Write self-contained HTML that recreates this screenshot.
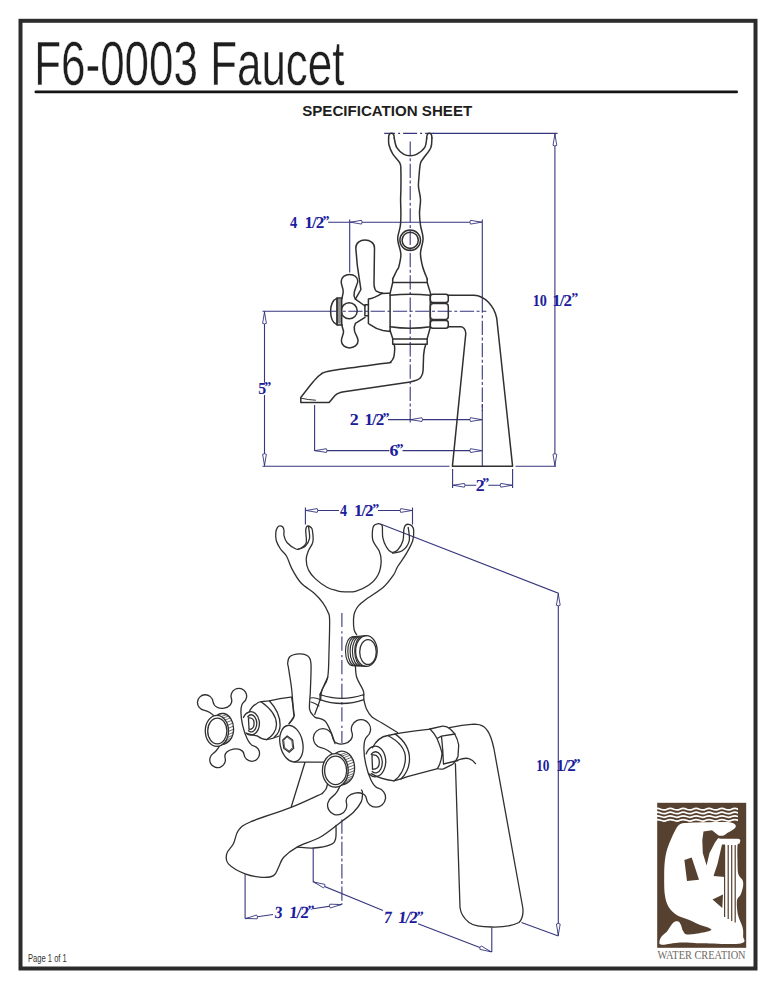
<!DOCTYPE html>
<html><head><meta charset="utf-8"><style>
html,body{margin:0;padding:0;background:#fff;width:776px;height:990px;overflow:hidden}
svg{position:absolute;left:0;top:0}
</style></head><body>
<svg width="776" height="990" viewBox="0 0 776 990">

<rect x="20.5" y="20.8" width="735" height="947.7" fill="none" stroke="#2c2c2c" stroke-width="4"/>
<text x="34.3" y="84.9" font-family="Liberation Sans" font-size="63.8" fill="#1e1e1e" stroke="#fff" stroke-width="0.5" transform="translate(34.2 0) scale(0.689 1) translate(-34.2 0)">F6-0003 Faucet</text>
<rect x="34.5" y="90.6" width="703.5" height="2.7" rx="1.3" fill="#151515"/>
<text x="302.2" y="115.5" font-family="Liberation Sans" font-weight="bold" font-size="15.3" fill="#1e1e1e" textLength="170" lengthAdjust="spacingAndGlyphs">SPECIFICATION SHEET</text>
<text x="28" y="962.5" font-family="Liberation Sans" font-size="11.5" fill="#333" transform="translate(28 0) scale(0.66 1) translate(-28 0)">Page 1 of 1</text>
<g fill="none" stroke="#36367e" stroke-width="1.1">
<path d="M384.2 133.4H434" stroke-dasharray="14 3 2 3" stroke-dashoffset="3.1"/>
<path d="M433 133.4H557.5"/>
<path d="M554.9 133.4V466.3"/>
<path d="M328 222.2H482.3M349.7 219.5V272.4M482.3 219.5V298.4"/>
<path d="M482.3 298.4V411" stroke-dasharray="14.3 2.5 3 2.5"/>
<path d="M482.3 404V466.3"/>
<path d="M410.2 139.5V422.5" stroke-dasharray="14.3 2.5 3 2.5" stroke-dashoffset="20.4"/>
<path d="M262.5 311.3H332"/>
<path d="M332 311.3H486.4" stroke-dasharray="14.3 2.5 3 2.5" stroke-dashoffset="6"/>
<path d="M264.5 311.3V382.7M264.5 394.9V466.3"/>
<path d="M388 419.6H482.3"/>
<path d="M314.6 405V451M314.6 450.6H389.3M402.5 450.6H482.3"/>
<path d="M262.5 466.3H449.5M515.5 466.3H556"/>
<path d="M452.6 469V488M512.6 469V488M452.6 485.3H476.3M488.3 485.3H512.6"/>
</g>
<g fill="#fff" stroke="#36367e" stroke-width="0.9">
<path d="M554.9 134.3L556.8 145.3Q554.9 146.5 553.0 145.3Z"/>
<path d="M554.9 465.3L553.0 454.3Q554.9 453.1 556.8 454.3Z"/>
<path d="M350.5 222.2L361.5 220.3Q362.7 222.2 361.5 224.1Z"/>
<path d="M481.5 222.2L470.5 224.1Q469.3 222.2 470.5 220.3Z"/>
<path d="M264.5 312.3L266.4 323.3Q264.5 324.5 262.6 323.3Z"/>
<path d="M264.5 465.3L262.6 454.3Q264.5 453.1 266.4 454.3Z"/>
<path d="M410.9 419.6L421.9 417.7Q423.1 419.6 421.9 421.5Z"/>
<path d="M481.5 419.6L470.5 421.5Q469.3 419.6 470.5 417.7Z"/>
<path d="M315.4 450.6L326.4 448.7Q327.6 450.6 326.4 452.5Z"/>
<path d="M481.5 450.6L470.5 452.5Q469.3 450.6 470.5 448.7Z"/>
<path d="M453.4 485.3L464.4 483.4Q465.6 485.3 464.4 487.2Z"/>
<path d="M511.8 485.3L500.8 487.2Q499.6 485.3 500.8 483.4Z"/>
</g>
<g fill="none" stroke="#36367e" stroke-width="1.1">
<path d="M305.4 507.4V524.4M412.5 507.4V524.4M305.4 510.5H339M378 510.5H412.5"/>
<path d="M381.2 524.3L558.3 593.2V936"/>
<path d="M341.9 612.9V743" stroke-dasharray="14.2 4.2 2.3 2.9"/>
<path d="M341.9 819.5V904.4" stroke-dasharray="14.3 2.5 3 2.5"/>
<path d="M245.1 874.2V918.6M245.1 918.6L273 914.5M313 908.7L341.9 904.4"/>
<path d="M313.2 848V881.8L383 910.5M418 923.8L491.6 952M491.8 927.7V952"/>
<path d="M521.5 922.5L558.3 936"/>
</g>
<g fill="#fff" stroke="#36367e" stroke-width="0.9">
<path d="M306.2 510.5L317.2 508.6Q318.4 510.5 317.2 512.4Z"/>
<path d="M411.7 510.5L400.7 512.4Q399.5 510.5 400.7 508.6Z"/>
<path d="M558.3 594.2L560.2 605.2Q558.3 606.4 556.4 605.2Z"/>
<path d="M558.3 935.0L556.4 924.0Q558.3 922.8 560.2 924.0Z"/>
<path d="M246.0 918.5L256.6 915.0Q258.1 916.7 257.2 918.8Z"/>
<path d="M341.0 904.5L330.4 908.0Q328.9 906.3 329.8 904.2Z"/>
<path d="M314.0 882.1L324.9 884.4Q325.4 886.6 323.5 887.9Z"/>
<path d="M490.8 951.7L479.9 949.4Q479.4 947.2 481.3 945.9Z"/>
</g>
<g font-family="Liberation Serif" font-weight="bold" fill="#1d1d9c" stroke="#1d1d9c" stroke-width="0.05" font-size="17">
<text transform="translate(290.00 227.9) scale(0.850 1)" x="0" y="0">4</text>
<text transform="translate(304.50 227.9) scale(1.000 1)" x="0" y="0" letter-spacing="-1">1/2</text><text x="322.40" y="225.6" font-size="14">”</text>
<text transform="translate(532.67 305.6) scale(0.833 1)" x="0" y="0">10</text>
<text transform="translate(552.20 305.6) scale(1.000 1)" x="0" y="0" letter-spacing="-1">1/2</text><text x="571.20" y="303.3" font-size="14">”</text>
<text transform="translate(258.17 394.1) scale(0.929 1)" x="0" y="0">5</text>
<text x="264.20" y="391.8" font-size="14">”</text>
<text transform="translate(349.74 425.2) scale(1.057 1)" x="0" y="0">2</text>
<text transform="translate(364.50 425.2) scale(1.000 1)" x="0" y="0" letter-spacing="-1">1/2</text><text x="382.40" y="422.9" font-size="14">”</text>
<text transform="translate(389.46 456.0) scale(1.043 1)" x="0" y="0">6</text>
<text x="396.60" y="453.7" font-size="14">”</text>
<text transform="translate(475.66 490.6) scale(1.043 1)" x="0" y="0">2</text>
<text x="482.20" y="488.3" font-size="14">”</text>
<text transform="translate(339.90 516.3) scale(0.825 1)" x="0" y="0">4</text>
<text transform="translate(353.90 516.3) scale(1.000 1)" x="0" y="0" letter-spacing="-1">1/2</text><text x="372.30" y="514.0" font-size="14">”</text>
<text transform="translate(536.22 771.0) scale(0.780 1)" x="0" y="0">10</text>
<text transform="translate(556.10 771.0) scale(1.000 1)" x="0" y="0" letter-spacing="-1">1/2</text><text x="573.40" y="768.7" font-size="14">”</text>
<g transform="translate(275.2 917.6) skewX(-5)"><text transform="translate(-0.91 0) scale(0.914 1)" x="0" y="0">3</text><text transform="translate(13.50 0) scale(1.000 1)" x="0" y="0" letter-spacing="-1">1/2</text><text x="31.30" y="-2.3" font-size="14">”</text></g>
<g transform="translate(384.2 923.3) skewX(-7)"><text transform="translate(-0.93 0) scale(0.929 1)" x="0" y="0">7</text><text transform="translate(13.30 0) scale(1.000 1)" x="0" y="0" letter-spacing="-1">1/2</text><text x="31.30" y="-2.3" font-size="14">”</text></g>
</g>
<g fill="none" stroke="#303030" stroke-width="1.5" stroke-linejoin="round" stroke-linecap="round">
<path d="M390.1 331V293.4L392.7 282.5V278.9"/>
<path d="M392.7 278.9C393.3 277.6 395.5 273.1 396.5 271.0C397.5 268.9 398.2 269.3 398.9 266.5C399.6 263.7 401.0 258.1 400.9 254.2C400.8 250.3 398.8 245.9 398.3 243.0C397.8 240.1 397.5 239.9 397.8 237.0C398.1 234.1 399.9 229.3 400.4 225.3C400.9 221.3 400.9 217.2 400.9 213.0C400.9 208.8 400.6 203.8 400.6 200.0C400.6 196.2 400.8 194.8 400.9 190.0C400.9 185.2 401.1 175.9 400.9 171.4C400.7 166.9 401.3 166.0 399.9 163.1C398.5 160.2 394.5 156.9 392.7 153.9C390.9 150.9 389.7 147.7 389.0 145.0C388.3 142.3 388.7 139.2 388.6 138.0"/>
<path d="M388.6 138C388.6 134.6 389.8 133.2 391.4 133.2C393 133.2 394.2 134.6 394.2 138"/>
<path d="M394.2 138.0C394.6 139.6 395.2 145.0 396.8 147.7C398.4 150.4 401.8 153.1 404.0 154.4C406.2 155.7 408.1 155.7 410.2 155.7C412.3 155.7 414.1 155.7 416.5 154.4C418.9 153.1 422.9 150.4 424.6 147.7C426.3 145.0 426.4 139.9 426.7 138.4"/>
<path d="M426.7 138.4C426.7 134.6 428 133.2 429.3 133.2C430.8 133.2 431.9 134.6 431.9 138"/>
<path d="M431.9 138.0C431.7 139.6 432.2 144.4 430.8 147.7C429.4 151.0 425.3 155.4 423.6 158.0C421.9 160.6 421.3 160.0 420.5 163.1C419.7 166.2 419.3 172.5 419.0 176.5C418.7 180.5 418.2 183.1 418.5 186.9C418.8 190.7 420.3 194.8 420.5 199.2C420.7 203.5 419.5 208.7 419.5 213.0C419.5 217.3 419.9 221.0 420.5 225.3C421.1 229.6 423.1 234.1 423.1 238.7C423.1 243.3 420.6 248.5 420.5 253.1C420.4 257.7 421.5 262.2 422.6 266.5C423.7 270.8 426.4 276.8 427.2 278.9"/>
<path d="M427.2 278.9V282.5L430.8 294.4"/>
<circle cx="410.2" cy="240.3" r="10.3"/><circle cx="410.2" cy="240.3" r="8.1"/>
<path d="M392.7 282.5H427.2"/>
<path d="M390.1 295.3Q410.2 293.3 430.3 295.3M390.1 326.8Q410.2 329.8 430.3 326.8M430.3 294.5V327.3L427.2 338.6M390.1 330.4L392.7 338.6"/>
<path d="M392.7 339.1H427.2M392.7 344.3H427.2M392.7 338.6V344.3M427.2 338.6V344.3"/>
<rect x="430.3" y="294.3" width="18" height="8.2" rx="2.5"/><rect x="430.3" y="303.6" width="18" height="15.9" rx="3"/><rect x="430.3" y="320.6" width="18" height="7.7" rx="2.5"/>
<path d="M448.2 295.3H474C485 295.8 494 306 496.7 318L512.6 466.3H452.4L465.8 333.5C465.8 329 463 326.8 460.6 326.8H448.2"/>
<path d="M394.2 344.3C394.3 345.1 394.8 346.9 394.7 349.0C394.6 351.1 394.4 355.1 393.7 357.2C393.0 359.3 392.0 360.8 390.6 361.8C389.2 362.8 394.9 361.9 385.2 363.3C375.5 364.7 343.1 368.6 332.4 370.4C321.7 372.2 324.0 372.4 320.8 374.3C317.6 376.2 316.3 378.1 313.0 382.0C309.7 385.9 302.8 394.9 300.8 397.5V402.6H329.1L335 395.5Q338 392.5 344 391.7L410.2 381.9Q418 380.5 420.5 377.8Q423.1 374 423.1 370.6L423.6 355.1Q424 349 425.8 344.3"/>
<path d="M301.5 398.3Q308 399.8 315.5 400.2" stroke-width="1"/>
<path d="M389.6 293.2C385 293.2 382.6 293.1 381.6 293.6C376 297 372 298.6 368.4 299V323.5C372 326 375 329 383 330.5L390.1 331.4"/>
<path d="M368.4 304.7H364.9V315.8H368.4"/>
<path d="M355.4 299.2L360.9 289.5L357.3 265.3L355.8 248.1C355.8 243 360 240 364.9 240C370 240 374.5 243 374.5 248L374 283.5C374 288 375.5 291.6 377.5 291.6C380 293 382.6 293.1 382.6 293.1"/>
<path d="M365 306L355.4 299.2C354 297 353.6 294.5 354.3 292C355 289 357.5 283.5 357.8 281.5C357.8 277 354 274.4 349.7 274.4C345 274.4 341.2 277.5 341.2 281.5C341.2 285 343.2 288 343.2 291.6C343.2 294 342 297 342 298.5"/>
<path d="M342 324.5C342 327 343 329 343.5 331C344 334 341.4 337 341.4 340.8C341.4 345 345 347.9 349.5 347.9C354 347.9 358.1 345 358.1 340.8C358.1 337 355 334 354.5 331C354 328 354.5 325 355.4 323.4L365 317.3"/>
<circle cx="349.2" cy="310.8" r="8"/>
<path d="M337.1 298.1C333 300 330.6 304 330.6 311.5C330.6 319 333 323 337.1 324.9Z"/>
<rect x="337.1" y="298.1" width="4.6" height="26.8" fill="#bbb"/>
<path d="M337.1 300.0H341.7M337.1 302.0H341.7M337.1 304.0H341.7M337.1 306.0H341.7M337.1 308.0H341.7M337.1 310.0H341.7M337.1 312.0H341.7M337.1 314.0H341.7M337.1 316.0H341.7M337.1 318.0H341.7M337.1 320.0H341.7M337.1 322.0H341.7" stroke-width="0.6"/>
</g>
<g fill="none" stroke="#303030" stroke-width="1.3" stroke-linejoin="round" stroke-linecap="round">
<path d="M320.6 700.0C320.8 698.4 320.7 694.0 321.9 690.2C323.1 686.4 326.5 683.8 327.7 677.3C328.9 670.8 328.7 661.2 329.0 651.5C329.3 641.8 329.8 625.9 329.6 619.3C329.4 612.7 329.0 614.8 327.9 612.0C326.8 609.2 324.9 605.7 322.7 602.6C320.5 599.5 318.1 596.7 314.5 593.4C310.9 590.1 304.9 587.1 301.1 583.0C297.3 578.9 294.2 573.1 291.8 568.6C289.4 564.1 288.5 559.5 286.6 556.2C284.7 552.9 282.2 551.6 280.5 549.0C278.8 546.4 277.1 543.5 276.3 540.8C275.5 538.0 275.6 534.8 275.8 532.5C276.0 530.2 276.8 528.4 277.5 527.3C278.2 526.2 279.1 525.8 280.0 525.8C280.9 525.8 282.1 526.2 282.8 527.0C283.5 527.8 283.8 529.1 284.0 530.5C284.2 531.9 283.5 533.6 284.0 535.6C284.5 537.6 285.2 540.6 287.2 542.8C289.2 545.0 293.6 548.1 295.9 549.0C298.2 549.9 299.4 549.0 301.1 548.0C302.8 547.0 305.4 545.7 306.2 542.8C307.0 539.9 305.6 533.1 305.7 530.5C305.8 527.9 306.1 527.8 306.5 527.0C306.9 526.2 307.6 525.9 308.3 526.0C309.1 526.1 310.3 526.8 311.0 527.5C311.7 528.2 312.1 528.1 312.4 530.5C312.7 532.9 313.6 538.4 312.9 541.8C312.2 545.2 309.4 548.2 308.3 551.1C307.2 554.0 306.2 556.2 306.2 559.3C306.2 562.4 306.8 566.3 308.3 569.6C309.9 572.9 312.4 576.0 315.5 578.9C318.6 581.8 323.3 585.2 326.9 587.2C330.5 589.2 334.2 590.0 337.2 590.8C340.2 591.6 341.9 591.7 345.0 591.8C348.1 591.9 351.5 592.4 355.5 591.3C359.5 590.2 365.1 587.9 368.9 585.1C372.7 582.4 376.1 578.8 378.1 574.8C380.2 570.8 381.0 565.3 381.2 561.4C381.4 557.5 380.6 554.5 379.2 551.1C377.8 547.7 374.1 544.2 373.0 540.8C371.9 537.4 372.3 533.0 372.5 530.5C372.7 528.0 373.1 526.6 374.0 525.5C374.9 524.4 376.5 524.0 377.6 523.8C378.7 523.6 379.7 523.8 380.5 524.2C381.3 524.6 381.9 524.0 382.3 526.3C382.7 528.5 382.1 534.2 382.8 537.7C383.5 541.2 384.9 544.6 386.4 547.0C387.8 549.4 389.6 551.6 391.5 552.1C393.4 552.6 395.8 551.9 397.7 550.0C399.6 548.1 401.9 544.2 402.9 540.8C403.9 537.4 403.5 532.0 403.9 529.4C404.3 526.8 404.7 526.1 405.5 525.3C406.3 524.4 407.5 524.2 408.6 524.3C409.7 524.4 411.1 525.0 412.0 526.0C412.9 527.0 413.6 528.0 413.7 530.5C413.8 533.0 414.0 536.8 412.7 540.8C411.4 544.8 408.5 549.9 406.0 554.2C403.5 558.5 399.8 563.1 397.7 566.5C395.6 569.9 396.0 571.3 393.6 574.8C391.2 578.2 387.9 583.1 383.3 587.2C378.7 591.3 369.9 596.4 365.8 599.5C361.7 602.6 360.4 603.6 358.6 605.7C356.8 607.8 355.7 609.7 354.8 612.0C353.9 614.3 353.6 616.4 353.5 619.3C353.4 622.2 353.6 627.0 354.1 629.6C354.6 632.2 356.3 633.9 356.7 634.8"/>
<path d="M308.6 527.0C308.8 529.0 310.1 535.5 309.5 538.7C308.9 542.0 306.9 544.7 305.0 546.5C303.1 548.3 299.2 548.8 298.0 549.3"/>
<path d="M408.2 527.4C408.4 529.6 410.1 536.9 409.2 540.8C408.2 544.6 405.3 548.5 402.5 550.5C399.7 552.5 394.2 552.7 392.6 553.1"/>
<path d="M355.4 665.7C355.6 667.6 355.4 673.2 356.7 677.3C358.0 681.4 361.9 687.3 363.1 690.2C364.3 693.1 363.7 693.8 363.8 694.5"/>
<path d="M352.8 636.8L366.4 635.6M352.8 665.6L366.4 666.4"/>
<path d="M352.7 636.8A7.2 14.4 0 0 0 352.7 665.6" stroke-width="1.15"/>
<path d="M355.0 636.8A7.2 14.4 0 0 0 355.0 665.6" stroke-width="1.15"/>
<path d="M357.3 636.8A7.2 14.4 0 0 0 357.3 665.6" stroke-width="1.15"/>
<path d="M359.6 636.8A7.2 14.4 0 0 0 359.6 665.6" stroke-width="1.15"/>
<path d="M361.9 636.8A7.2 14.4 0 0 0 361.9 665.6" stroke-width="1.15"/>
<ellipse cx="366.4" cy="651" rx="10.8" ry="15.4"/><ellipse cx="368" cy="652" rx="8.3" ry="12.4"/>
<path d="M289.0 724.0C289.9 722.6 293.4 717.8 294.2 715.8C294.9 713.8 293.9 716.5 293.5 712.0C293.1 707.5 292.4 696.0 291.6 688.7C290.8 681.4 289.1 672.3 288.5 668.0C287.9 663.7 287.4 664.8 287.7 662.9C287.9 661.0 288.1 658.0 290.0 656.5C291.9 655.0 296.5 654.1 299.3 653.9C302.1 653.7 305.1 654.0 307.0 655.5C308.9 657.0 310.3 657.1 310.9 662.9C311.5 668.6 310.6 682.3 310.4 690.0C310.2 697.7 308.9 704.8 309.6 709.3C310.3 713.8 313.6 715.6 314.8 717.0C316.0 718.4 316.5 717.7 316.9 717.8"/>
<path d="M320 694.5Q341.9 702.2 363.8 694.5M320 699.6Q341.9 707.4 363.8 699.6M320 694.5V699.6M363.8 694.5V699.6"/>
<path d="M320.0 694.5C320.3 693.8 320.6 693.1 321.9 690.2C323.2 687.3 326.7 679.4 327.7 677.3"/>
<path d="M320.0 700.0C319.6 701.2 318.4 704.6 317.5 707.0C316.6 709.4 315.2 713.2 314.8 714.4"/>
<path d="M363.8 699.6C364.2 701.2 365.1 706.1 366.5 709.0C367.9 711.9 369.4 714.7 372.0 717.0C374.6 719.3 377.8 720.4 382.0 723.0C386.2 725.6 394.9 730.9 397.5 732.5"/>
<path d="M316.9 717.8C318.2 718.3 322.6 718.6 325.0 721.0C327.4 723.4 329.3 728.2 331.0 732.0C332.7 735.8 334.3 741.7 335.0 743.6"/>
<path d="M310.5 698Q315 697 320 699.6M311 702Q315 703 319 706" stroke-width="1.1"/>
<path d="M249.4 711.6Q252 706 255.7 704.4Q258 702 261.1 701.7L269.3 700.8Q280 698.5 290.9 697.2"/>
<path d="M246.7 733.3Q252 735 257.5 736Q262 739.6 266.6 739.6Q272 739 279.2 736"/>
<path d="M261.1 701.7C270 708 276.5 716 276.5 724.3C276.5 731 272 737 266.6 739.6M269.3 700.8C276 708 280.1 717 280.1 725C280.1 731 277 735 274 737.5"/>
<path d="M243.4 717.5A8.6 11.7 0 1 1 245.9 733.0M247.7 716.8A5.4 8.6 0 1 1 248.5 730.8M248.5 718C253 717.5 254.2 720.5 254.1 723.4C254.1 726 253 729.3 249 729.3C249 726 248.5 722 248.5 718Z"/>
<path d="M291.6 697.2C292.0 699.7 293.5 708.5 293.8 712.0C294.1 715.5 294.3 716.1 293.5 718.0C292.7 719.9 289.8 722.5 289.1 723.4"/>
<ellipse cx="291.4" cy="743.6" rx="11.3" ry="18.5" transform="rotate(-12 291.4 743.6)"/>
<path d="M287.2 735.9L292.7 740.0L293.7 748.2L289.2 752.3L283.7 748.2L282.7 740.0Z" stroke-width="1.2"/>
<path d="M287.4 737.3L291.8 740.7L292.6 747.5L289.0 750.9L284.6 747.5L283.8 740.7Z" stroke-width="0.8"/>
<path d="M294.2 762.2H324M305 762.2L291.2 807"/>
<path d="M203.7 710.2A7.8 7.8 0 1 1 213.0 701.5C214.6 712.6 234.8 709.1 231.4 698.5A7.8 7.8 0 1 1 243.6 702.3C236.5 707.8 244.8 743.8 253.5 745.9A7.8 7.8 0 1 1 244.0 754.4C242.8 744.9 222.6 748.6 225.1 757.8A7.8 7.8 0 1 1 213.1 753.5C228.3 742.8 221.9 714.1 203.7 710.2Z"/>
<path d="M216.9 715.4A11.6 15.5 0 0 1 222 713.5L224 713.5A11.6 15.5 0 0 1 233.6 729A11.6 15.5 0 0 1 222 744.5L217 746.4Z" fill="#fff"/>
<ellipse cx="216.9" cy="730.9" rx="11.6" ry="15.5" fill="#fff"/><ellipse cx="217.3" cy="731" rx="9.6" ry="12.9"/>
<path d="M225.8 714.9L220.9 716.7M227.8 716.3L223.0 718.1M229.6 718.2L224.8 720.1M231.1 720.6L226.4 722.5M232.2 723.4L227.5 725.3M232.8 726.4L228.1 728.4M233.0 729.5L228.3 731.5M232.7 732.6L228.0 734.7M231.9 735.6L227.2 737.7M230.7 738.2L225.9 740.4M229.1 740.5L224.3 742.6M227.2 742.2L222.3 744.4M225.0 743.4L220.1 745.6" stroke-width="0.7"/>
<path d="M320.9 747.6A9.6 9.6 0 1 1 332.5 737.0C334.1 749.3 356.0 744.0 351.9 732.4A9.6 9.6 0 1 1 367.1 736.6C358.9 743.3 367.9 785.7 378.2 788.2A9.6 9.6 0 1 1 366.4 798.6C365.2 788.4 343.6 792.8 346.4 802.6A9.6 9.6 0 1 1 331.6 797.4C348.9 784.8 341.8 752.3 320.9 747.6Z"/>
<path d="M335.3 753.6A12.9 16.8 0 0 1 341.5 751.2L342 751.2A12.9 16.8 0 0 1 354.6 768A12.9 16.8 0 0 1 341.5 784.8L335.3 787.2Z" fill="#fff"/>
<ellipse cx="335.3" cy="770.4" rx="12.9" ry="16.8" fill="#fff"/><ellipse cx="335.6" cy="770.4" rx="11" ry="14.2"/>
<path d="M345.8 752.7L339.8 754.9M347.8 753.9L341.8 756.1M349.5 755.5L343.6 757.8M351.1 757.5L345.2 759.8M352.3 759.9L346.4 762.1M353.2 762.4L347.3 764.8M353.8 765.2L347.9 767.5M354.0 768.0L348.1 770.4M353.8 770.8L347.9 773.3M353.2 773.6L347.3 776.0M352.3 776.1L346.4 778.6M351.1 778.5L345.2 781.0M349.5 780.5L343.6 783.0M347.8 782.1L341.8 784.7M345.8 783.3L339.8 785.9" stroke-width="0.7"/>
<path d="M366.1 753.9A10.5 15.3 0 1 1 369.2 774.0M371.3 754.2A6.7 10.6 0 1 1 372.2 771.5M372 755C378 754 379.5 759 379.3 762.5C379.3 766 377.5 769.4 372.5 769.4C372.5 765 372 760 372 755Z"/>
<path d="M372.4 747.8Q378 737 387.8 735.5L401.2 732.9Q415 731 430.3 729.2M371.3 773.6Q380 779 394 780.8Q402 779 407.4 776.7L437.6 768.6"/>
<path d="M387.8 735.5C400 742 405.4 750 405.4 758C405.4 768 400 777 394 780.8M395 733.9C405 741 409.5 750 409.5 759C409.5 768 405 775 401 779"/>
<path d="M430 729L442.5 726.2Q447 726 450.5 729.2L454.5 733.5Q458 740 458.7 745L458 756.5Q456 762 452 764.7L443.5 768.8Q440 769.5 437.5 768.5"/>
<path d="M430 729Q435 734 437 738.5Q441 748 442 753.5Q441.5 762 437.5 768.5M441.5 736.2L455 734M441.5 736.2Q443 750 443.5 764M443.5 764L458 760.5M437 738.5L441.5 736.2"/>
<path d="M449.5 727.6Q462 725 473.8 724.2Q480 724.2 483.9 726.7Q488 730 490.6 736.8Q492.5 742 493.9 748.5L522.75 907.5Q524 917 519 922.5Q509 927.5 491.5 927Q475 927 469 922.5Q461 916 460 907.5L455.4 763.6"/>
<path d="M458 760Q465 757.5 468.8 758.6Q473 760 475.5 763.6"/>
<path d="M322.2 793.5C316.9 795.9 302.4 803.0 290.4 807.7C278.4 812.5 258.9 818.2 250.2 822.0C241.5 825.8 241.2 826.8 238.4 830.4C235.6 834.0 235.4 839.9 233.4 843.8C231.4 847.7 227.5 850.4 226.7 853.8C225.9 857.1 225.3 860.5 228.4 863.9C231.5 867.2 239.5 871.7 245.1 873.9C250.7 876.1 257.1 877.0 261.9 877.3C266.6 877.6 270.8 877.3 273.6 875.6C276.4 873.9 276.9 870.3 278.6 867.2C280.3 864.1 280.6 860.6 283.7 857.2C286.8 853.9 291.0 850.5 297.1 847.1C303.2 843.7 313.0 841.3 320.5 837.0C328.0 832.7 336.4 825.3 341.9 821.2C347.4 817.1 350.3 815.4 353.5 812.2C356.7 809.0 359.7 805.1 361.2 801.9C362.7 798.7 362.4 794.9 362.5 792.9C362.6 790.9 361.7 790.5 361.5 790.0"/>
<path d="M297.1 847.1C299.9 847.2 308.2 848.4 313.8 848.0C319.4 847.6 327.0 846.1 330.6 844.6C334.2 843.1 334.7 841.9 335.6 838.7C336.5 835.5 335.9 827.5 336.0 825.3"/>
<path d="M322.2 793.5C322.8 792.8 325.1 790.6 326.0 789.0C326.9 787.4 327.2 784.8 327.5 784.0"/>
</g>
<rect x="657.2" y="802.8" width="89" height="145" fill="#56402f"/>
<clipPath id="wclip"><path d="M657 802H738V826H657Z"/></clipPath>
<path d="M654.2 809.2Q657.4 807.7 660.7 809.2T667.1 809.2Q670.3 807.7 673.6 809.2T680.0 809.2Q683.2 807.7 686.5 809.2T692.9 809.2Q696.1 807.7 699.4 809.2T705.8 809.2Q709.0 807.7 712.3 809.2T718.7 809.2Q721.9 807.7 725.2 809.2T731.6 809.2Q734.8 807.7 738.1 809.2T744.5 809.2M654.2 812.9Q657.4 811.4 660.7 812.9T667.1 812.9Q670.3 811.4 673.6 812.9T680.0 812.9Q683.2 811.4 686.5 812.9T692.9 812.9Q696.1 811.4 699.4 812.9T705.8 812.9Q709.0 811.4 712.3 812.9T718.7 812.9Q721.9 811.4 725.2 812.9T731.6 812.9Q734.8 811.4 738.1 812.9T744.5 812.9M654.2 816.6Q657.4 815.1 660.7 816.6T667.1 816.6Q670.3 815.1 673.6 816.6T680.0 816.6Q683.2 815.1 686.5 816.6T692.9 816.6Q696.1 815.1 699.4 816.6T705.8 816.6Q709.0 815.1 712.3 816.6T718.7 816.6Q721.9 815.1 725.2 816.6T731.6 816.6Q734.8 815.1 738.1 816.6T744.5 816.6M654.2 820.3Q657.4 818.8 660.7 820.3T667.1 820.3Q670.3 818.8 673.6 820.3T680.0 820.3Q683.2 818.8 686.5 820.3T692.9 820.3Q696.1 818.8 699.4 820.3T705.8 820.3Q709.0 818.8 712.3 820.3T718.7 820.3Q721.9 818.8 725.2 820.3T731.6 820.3Q734.8 818.8 738.1 820.3T744.5 820.3" fill="none" stroke="#fff" stroke-width="1.7" clip-path="url(#wclip)"/>
<path d="M679.5 824.5C682.5 822.2 685.8 823.2 690.0 822.8C694.2 822.4 699.7 822.4 705.0 822.3C710.3 822.2 717.7 822.0 722.0 822.0C726.3 822.0 728.8 822.0 731.0 822.5C733.2 823.0 734.8 824.1 735.5 825.0C736.2 825.9 735.8 827.0 735.0 828.0C734.2 829.0 732.3 830.2 731.0 831.0C729.7 831.8 728.5 832.2 727.2 833.0C726.0 833.8 725.3 835.0 723.5 835.5C721.7 836.0 716.9 835.6 716.2 836.1C715.5 836.6 717.2 838.2 719.5 838.6C721.8 839.0 726.7 838.7 730.0 838.8C733.3 838.9 737.9 838.4 739.5 839.2C741.1 840.0 739.8 842.5 739.5 843.5C739.2 844.5 737.8 842.8 737.5 845.5C737.2 848.2 737.4 855.3 737.5 860.0C737.6 864.7 737.4 870.4 738.2 873.7C739.0 877.0 741.7 878.0 742.5 880.0C743.3 882.0 743.4 883.6 743.1 886.0C742.8 888.4 741.7 892.1 740.7 894.5C739.7 896.9 737.5 897.2 737.0 900.6C736.5 904.0 737.1 910.6 738.0 915.0C738.9 919.4 741.6 923.5 742.5 927.0C743.4 930.5 743.4 933.3 743.1 936.0C742.8 938.7 747.9 942.2 740.7 943.4C733.5 944.6 710.1 943.4 700.0 943.2C689.9 943.1 686.3 942.2 680.0 942.5C673.7 942.8 665.4 944.9 662.0 944.7C658.6 944.5 659.5 943.0 659.5 941.5C659.5 940.0 660.7 937.7 662.0 936.0C663.3 934.3 665.3 933.4 667.2 931.2C669.1 929.0 671.5 924.2 673.4 922.6C675.2 921.0 677.0 921.0 678.3 921.4C679.6 921.8 680.2 923.4 681.0 925.0C681.8 926.6 681.9 929.6 683.2 931.2C684.5 932.8 684.3 934.7 689.0 934.5C693.7 934.3 709.8 931.8 711.3 930.0C712.8 928.2 701.7 925.6 697.8 923.9C693.9 922.1 691.5 920.9 688.0 919.5C684.5 918.1 680.2 917.4 677.0 915.3C673.8 913.2 670.5 910.2 668.5 906.7C666.5 903.2 665.5 899.8 664.8 894.5C664.1 889.2 664.2 880.5 664.2 875.0C664.2 869.5 664.3 865.5 664.8 861.2C665.3 856.9 666.0 853.1 667.2 849.0C668.4 844.9 670.1 840.8 672.1 836.7C674.1 832.6 676.5 826.8 679.5 824.5Z" fill="#fff"/>
<path d="M703.5 831.5L712 830.3L719.5 836.3L715 842.5L709.5 853L706.6 865.5L702.8 853L702.3 840Z" fill="#56402f"/>
<path d="M722 844.5L725 844.5L725 877L713.5 876L717.5 864Z" fill="#56402f"/>
<path d="M684.4 860L691.7 857.5L699 879.8L687 881Z" fill="#56402f"/>
<path d="M712.5 899.4L723 894.5L722.3 908Z" fill="#56402f"/>
<path d="M724.6 845V917M728.2 845V919M731.7 845V921M735.2 845V922.5" stroke="#56402f" stroke-width="1.2"/>
<text x="657.4" y="959.4" font-family="Liberation Serif" font-size="11.8" fill="#6e6862" textLength="88.2" lengthAdjust="spacingAndGlyphs">WATER CREATION</text>
</svg>
</body></html>
